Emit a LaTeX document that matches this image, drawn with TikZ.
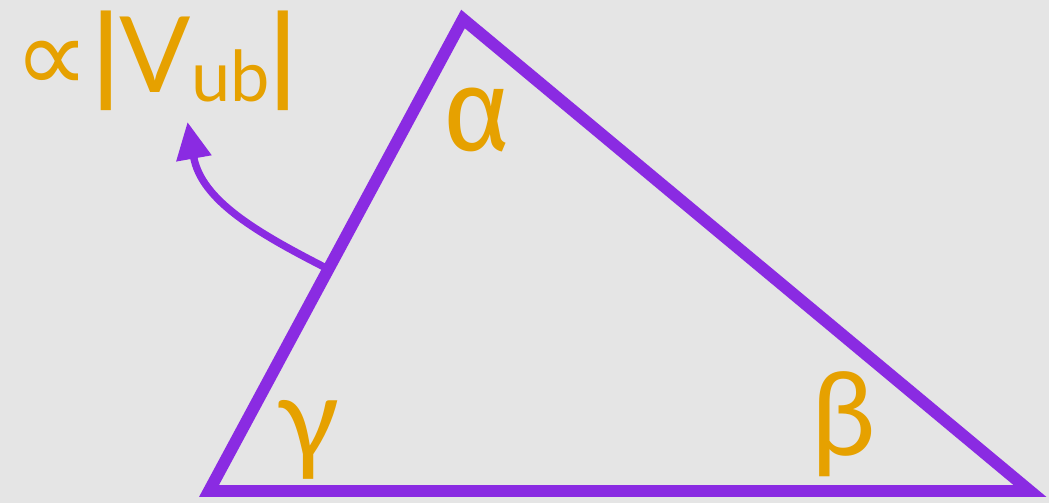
\documentclass[tikz,border=0pt]{standalone}
\usepackage{fontspec}
\setmainfont{Lato}
\newfontfamily\simbolos{DejaVu Sans}
\newfontfamily\griega{Fira Sans}
\usetikzlibrary{arrows.meta,calc}
\definecolor{fondo}{HTML}{E5E5E5}
\definecolor{violeta}{HTML}{8A2BE2}
\definecolor{naranja}{HTML}{E6A100}

\tikzset{
  lado/.style={violeta, line width=6.8pt, line join=miter},
  angulo/.style={naranja, anchor=base, inner sep=0pt, font=\fontsize{66}{66}\selectfont},
  flecha/.style={violeta, line width=4.2pt, -{Triangle[length=0.74cm,width=0.68cm]}}
}

\begin{document}
\begin{tikzpicture}[line cap=round]
  \fill[fondo] (0,0) rectangle (20.98,10.06);

  % Triangulo
  \coordinate (A) at (4.18,0.24);
  \coordinate (B) at (9.26,9.68);
  \coordinate (C) at (20.60,0.24);
  \coordinate (pie) at ($(A)!0.47!(B)$);
  \coordinate (punta) at (3.75,7.62);
  \draw[flecha] (pie) to[out=153, in=-80] (punta);
  \draw[lado] (A) -- (B) -- (C) -- cycle;

  % Angulos
  \node[angulo] (alfa) at (9.54,7.06) {\griega α};
  \node[angulo] (beta) at (16.88,0.96) {β};
  \node[angulo] (gama) at (6.16,0.88) {γ};

  % Etiqueta
  \node[naranja, anchor=base, inner sep=0pt, font=\fontsize{60}{60}\selectfont] (vub) at (3.12,8.22)
    {{\simbolos ∝}\hspace{0.05cm}{\bfseries|}V\raisebox{-0.18cm}{\fontsize{40}{40}\selectfont ub}{\bfseries|}};
\end{tikzpicture}
\end{document}
